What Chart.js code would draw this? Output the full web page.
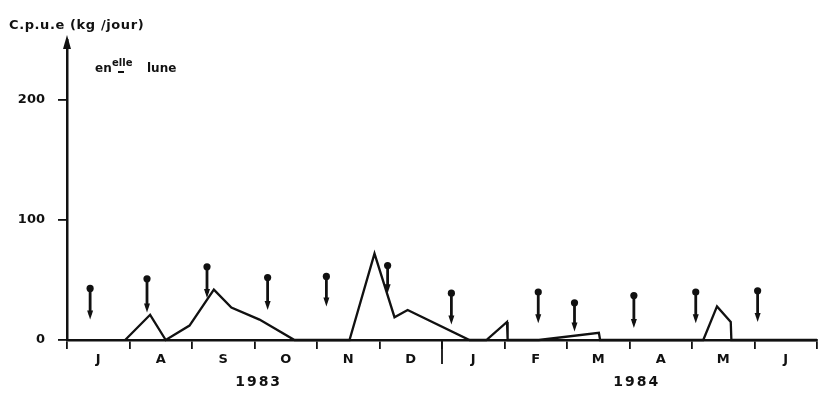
<!DOCTYPE html>
<html>
<head>
<meta charset="utf-8">
<script src="https://cdn.jsdelivr.net/npm/chart.js@4"></script>
<style>
  html, body { margin: 0; padding: 0; background: #fff; }
  #wrap { width: 821px; height: 399px; }
</style>
</head>
<body>
<div id="wrap"><canvas id="c" width="821" height="399"></canvas></div>
<script>
// Months from July 1983 (0) to end of June 1984 (12)
const monthLabels = ['J', 'A', 'S', 'O', 'N', 'D', 'J', 'F', 'M', 'A', 'M', 'J'];
const yearLabels = ['1983', '1984'];
const yearCenters = [3.05, 9.1];
const yTickValues = [0, 100, 200];

// C.p.u.e (kg/jour) through the season
const cpueMonths = [0.93, 1.33, 1.58, 1.96, 2.35, 2.63, 3.08, 3.64, 4.52, 4.92, 5.24, 5.45, 6.44, 6.71, 7.04, 7.05, 7.55, 8.51, 8.53, 10.18, 10.40, 10.62, 10.63, 12];
const cpueValues = [0, 21, 0, 12, 42, 27, 17, 0, 0, 72, 19, 25, 0, 0, 15, 0, 0, 6, 0, 0, 28, 15, 0, 0];

// Moon markers: dot at the top, arrow pointing down
const moonMonths = [0.37, 1.28, 2.24, 3.21, 4.15, 5.13, 6.15, 7.54, 8.12, 9.07, 10.06, 11.05];
const moonTop = [43, 51, 61, 52, 53, 62, 39, 40, 31, 37, 40, 41];
const moonTip = [17, 23, 35, 25, 28, 39, 13, 14, 7, 10, 14, 15];

const FONT = '"DejaVu Sans", sans-serif';
const INK = '#111';

const annotations = {
  id: 'annotations',
  afterDatasetsDraw(chart) {
    const { ctx, chartArea, scales: { x, y } } = chart;
    ctx.save();
    ctx.strokeStyle = INK;
    ctx.fillStyle = INK;

    // moon arrows
    ctx.lineWidth = 2.8;
    moonMonths.forEach((m, i) => {
      const px = x.getPixelForValue(m);
      const y1 = y.getPixelForValue(moonTop[i]);
      const y2 = y.getPixelForValue(moonTip[i]);
      ctx.beginPath();
      ctx.moveTo(px, y1);
      ctx.lineTo(px, y2 - 5);
      ctx.stroke();
      ctx.beginPath();
      ctx.moveTo(px - 3, y2 - 9);
      ctx.lineTo(px + 3, y2 - 9);
      ctx.lineTo(px, y2);
      ctx.closePath();
      ctx.fill();
    });

    // arrow at the top of the vertical axis
    const ax = chartArea.left;
    ctx.beginPath();
    ctx.moveTo(ax - 4, chartArea.top + 9);
    ctx.lineTo(ax + 4, chartArea.top + 9);
    ctx.lineTo(ax, chartArea.top - 5);
    ctx.closePath();
    ctx.fill();

    // year boundary tick
    const jx = x.getPixelForValue(6);
    ctx.lineWidth = 1.8;
    ctx.beginPath();
    ctx.moveTo(jx, chartArea.bottom);
    ctx.lineTo(jx, chartArea.bottom + 24);
    ctx.stroke();

    // year labels
    ctx.font = 'bold 14px ' + FONT;
    ctx.textAlign = 'center';
    ctx.textBaseline = 'middle';
    ctx.letterSpacing = '2px';
    yearLabels.forEach((t, i) => {
      ctx.fillText(t, x.getPixelForValue(yearCenters[i]) + 1, 382);
    });

    // axis title
    ctx.textAlign = 'left';
    ctx.letterSpacing = '0.6px';
    ctx.font = 'bold 13px ' + FONT;
    ctx.fillText('C.p.u.e (kg /jour)', 9, 26);

    // legend for the moon markers
    ctx.letterSpacing = '0px';
    ctx.font = 'bold 12px ' + FONT;
    ctx.fillText('en', 95, 69);
    ctx.fillText('lune', 147, 69);
    ctx.font = 'bold 10px ' + FONT;
    ctx.fillText('elle', 112, 63);
    ctx.lineWidth = 2;
    ctx.beginPath();
    ctx.moveTo(118, 72);
    ctx.lineTo(124, 72);
    ctx.stroke();

    ctx.restore();
  }
};

new Chart(document.getElementById('c'), {
  type: 'scatter',
  data: {
    datasets: [
      {
        data: cpueMonths.map((m, i) => ({ x: m, y: cpueValues[i] })),
        showLine: true,
        borderColor: INK,
        borderWidth: 2.3,
        pointRadius: 0,
        tension: 0,
        clip: 6
      },
      {
        data: moonMonths.map((m, i) => ({ x: m, y: moonTop[i] })),
        showLine: false,
        pointStyle: 'circle',
        pointRadius: 3.6,
        backgroundColor: INK,
        borderColor: INK,
        borderWidth: 0
      }
    ]
  },
  options: {
    responsive: false,
    animation: false,
    devicePixelRatio: 1,
    layout: { padding: { top: 40, right: 3, left: 0, bottom: 0 } },
    plugins: { legend: { display: false }, tooltip: { enabled: false } },
    scales: {
      x: {
        type: 'linear',
        min: 0,
        max: 12,
        afterBuildTicks(scale) {
          const t = [];
          for (let v = 0; v <= 24; v++) t.push({ value: v / 2 });
          scale.ticks = t;
        },
        afterFit(scale) { scale.height = 59; },
        ticks: {
          autoSkip: false,
          maxRotation: 0,
          color: INK,
          padding: 3,
          font: { family: FONT, weight: 'bold', size: 13 },
          callback: (v) => Number.isInteger(v) ? '' : monthLabels[Math.floor(v)]
        },
        grid: {
          drawOnChartArea: false,
          drawTicks: true,
          tickLength: 9,
          lineWidth: 1.8,
          color: (c) => (c.tick && Number.isInteger(c.tick.value)) ? INK : 'rgba(0,0,0,0)'
        },
        border: { display: true, color: INK, width: 2.5 }
      },
      y: {
        min: 0,
        max: 250,
        afterBuildTicks(scale) {
          scale.ticks = yTickValues.map(v => ({ value: v }));
        },
        afterFit(scale) { scale.width = 67; },
        ticks: {
          color: INK,
          padding: 13,
          font: { family: FONT, weight: 'bold', size: 13 }
        },
        grid: {
          drawOnChartArea: false,
          drawTicks: true,
          tickLength: 9,
          lineWidth: 1.8,
          color: INK
        },
        border: { display: true, color: INK, width: 2.5 }
      }
    }
  },
  plugins: [annotations]
});
</script>
</body>
</html>
